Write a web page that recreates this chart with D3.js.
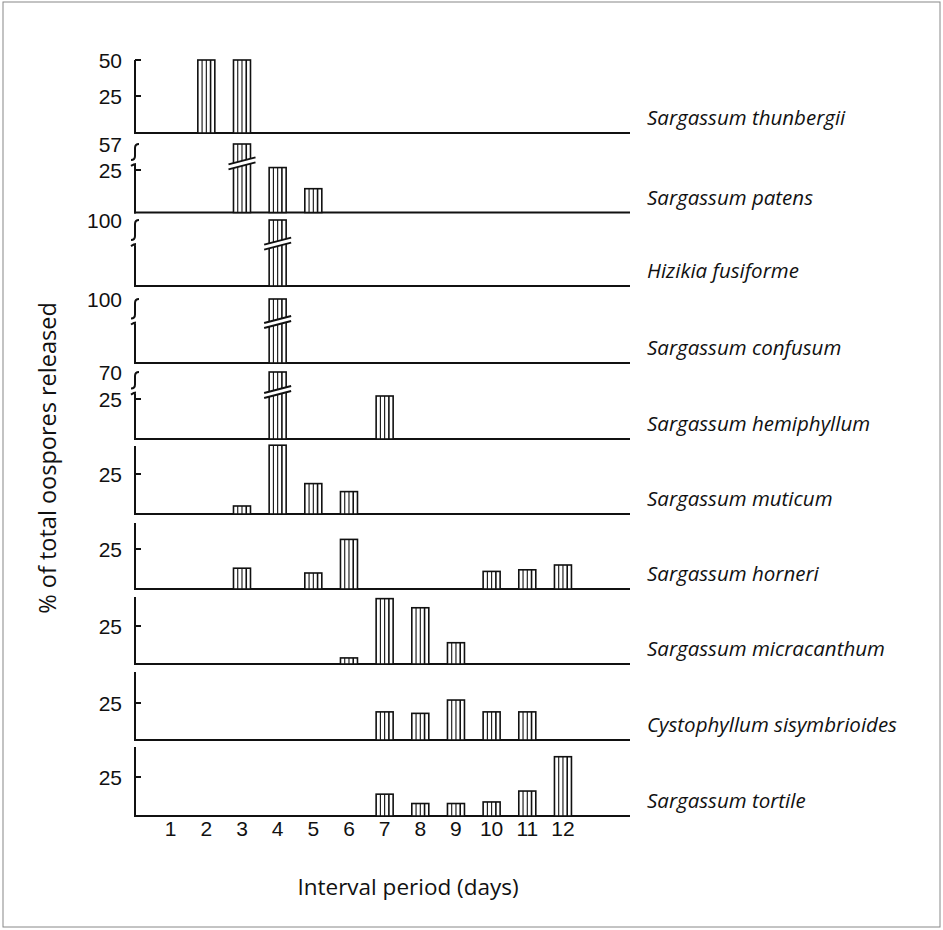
<!DOCTYPE html>
<html>
<head>
<meta charset="utf-8">
<script src="https://cdn.jsdelivr.net/npm/d3@7"></script>
<style>
  html, body { margin: 0; padding: 0; background: #fff; }
  svg { display: block; }
</style>
</head>
<body>
<svg id="chart" width="943" height="930"></svg>
<script>
// ---------------- DATA ----------------
const days = [1, 2, 3, 4, 5, 6, 7, 8, 9, 10, 11, 12];
const speciesNames = [
  "Sargassum thunbergii", "Sargassum patens", "Hizikia fusiforme",
  "Sargassum confusum", "Sargassum hemiphyllum", "Sargassum muticum",
  "Sargassum horneri", "Sargassum micracanthum",
  "Cystophyllum sisymbrioides", "Sargassum tortile"
];
// % of total oospores released per interval day (0 = none)
const thunbergii   = [0, 50, 50, 0, 0, 0, 0, 0, 0, 0, 0, 0];
const patens       = [0, 0, 57, 28, 14, 0, 0, 0, 0, 0, 0, 0];
const fusiforme    = [0, 0, 0, 100, 0, 0, 0, 0, 0, 0, 0, 0];
const confusum     = [0, 0, 0, 100, 0, 0, 0, 0, 0, 0, 0, 0];
const hemiphyllum  = [0, 0, 0, 70, 0, 0, 30, 0, 0, 0, 0, 0];
const muticum      = [0, 0, 5, 43, 19, 14, 0, 0, 0, 0, 0, 0];
const horneri      = [0, 0, 13, 0, 10, 31, 0, 0, 0, 11, 12, 15];
const micracanthum = [0, 0, 0, 0, 0, 4, 43, 37, 14, 0, 0, 0];
const sisymbrioides= [0, 0, 0, 0, 0, 0, 19, 18, 27, 19, 19, 0];
const tortile      = [0, 0, 0, 0, 0, 0, 14, 8, 8, 9, 16, 38];
const seriesValues = [thunbergii, patens, fusiforme, confusum, hemiphyllum,
                      muticum, horneri, micracanthum, sisymbrioides, tortile];
// y tick labels per panel; axis top (broken) value per panel
const yTickLabels = [[50, 25], [57, 25], [100], [100], [70, 25], [25], [25], [25], [25], [25]];
const axisTopValue = [50, 57, 100, 100, 70, null, null, null, null, null];
const brokenPanel  = [false, true, true, true, true, false, false, false, false, false];
const xTitle = "Interval period (days)";
const yTitle = "% of total oospores released";

// ---------------- LAYOUT ----------------
const layout = [
  { base: 133,   top: 60,  y25: 96 },
  { base: 212.5, top: 144, y25: 170 },
  { base: 286,   top: 220, y25: null },
  { base: 363,   top: 299, y25: null },
  { base: 439,   top: 372, y25: 399 },
  { base: 514,   top: 446, y25: 474 },
  { base: 589,   top: 523, y25: 549 },
  { base: 664,   top: 597, y25: 626 },
  { base: 740,   top: 672, y25: 703 },
  { base: 816,   top: 747, y25: 777 }
];
const axisX = 135;
const ink = "#111";
const numFont = "Liberation Sans, Arial, sans-serif";
const textFont = "Open Sans, sans-serif";

const svg = d3.select("#chart");

// frame
svg.append("rect").attr("x", 3).attr("y", 2).attr("width", 937).attr("height", 925)
  .attr("fill", "none").attr("stroke", "#888").attr("stroke-width", 1);

const x = d3.scaleLinear().domain([0, 13.88]).range([axisX, 630]);
const barW = 17;

function yScaleFor(i) {
  const L = layout[i];
  const topV = axisTopValue[i];
  if (L.y25 !== null && topV !== null && topV > 25) {
    return d3.scaleLinear().domain([0, 25, topV]).range([L.base, L.y25, L.top]);
  }
  if (L.y25 !== null) {
    return d3.scaleLinear().domain([0, 25]).range([L.base, L.y25]);
  }
  return d3.scaleLinear().domain([0, topV]).range([L.base, L.top]);
}

seriesValues.forEach((vals, i) => {
  const L = layout[i];
  const y = yScaleFor(i);
  const g = svg.append("g");
  const broken = brokenPanel[i];
  const breakY = broken
    ? (L.y25 !== null ? L.y25 - 0.35 * (L.y25 - L.top) : L.top + 0.32 * (L.base - L.top))
    : null;

  // baseline
  g.append("line").attr("x1", axisX - 1).attr("x2", x.range()[1])
    .attr("y1", L.base).attr("y2", L.base)
    .attr("stroke", ink).attr("stroke-width", 2);

  // y axis line
  if (!broken) {
    g.append("line").attr("x1", axisX).attr("x2", axisX)
      .attr("y1", L.top).attr("y2", L.base + 1)
      .attr("stroke", ink).attr("stroke-width", 2);
  } else {
    const p1 = d3.path();
    p1.moveTo(axisX + 4, L.top);
    p1.quadraticCurveTo(axisX, L.top, axisX, L.top + 4);
    p1.lineTo(axisX, breakY - 5);
    p1.quadraticCurveTo(axisX, breakY - 1, axisX - 4, breakY - 1);
    const p2 = d3.path();
    p2.moveTo(axisX + 1, breakY + 3);
    p2.quadraticCurveTo(axisX - 1, breakY + 3, axisX - 4, breakY + 5);
    p2.moveTo(axisX, breakY + 3);
    p2.lineTo(axisX, L.base + 1);
    g.append("path").attr("d", p1.toString()).attr("fill", "none")
      .attr("stroke", ink).attr("stroke-width", 2);
    g.append("path").attr("d", p2.toString()).attr("fill", "none")
      .attr("stroke", ink).attr("stroke-width", 2);
  }

  // ticks + labels
  yTickLabels[i].forEach(t => {
    const ty = y(t);
    if (!broken || t !== axisTopValue[i]) {
      g.append("line").attr("x1", axisX).attr("x2", axisX + 6)
        .attr("y1", ty).attr("y2", ty).attr("stroke", ink).attr("stroke-width", 2);
    }
    g.append("text").attr("x", 122).attr("y", ty).attr("dy", "0.36em")
      .attr("text-anchor", "end")
      .attr("font-family", numFont)
      .attr("font-size", 21).attr("fill", ink).text(t);
  });

  // bars
  const bars = days.map((d, k) => ({ day: d, v: vals[k] })).filter(d => d.v > 0);
  bars.forEach(b => {
    const bx = x(b.day) - barW / 2;
    const by = y(b.v);
    const bh = L.base - by;
    const bg = g.append("g");
    bg.append("rect").attr("x", bx).attr("y", by).attr("width", barW).attr("height", bh)
      .attr("fill", "#fff").attr("stroke", ink).attr("stroke-width", 1.6);
    [0.25, 0.5, 0.75].forEach((f, j) => {
      bg.append("line").attr("x1", bx + barW * f).attr("x2", bx + barW * f)
        .attr("y1", by).attr("y2", L.base)
        .attr("stroke", ink).attr("stroke-width", j === 2 ? 1.6 : 1.1);
    });
    if (broken && by < breakY - 6) {
      const x0 = bx - 5, x1 = bx + barW + 5;
      const rise = 7, gap = 5;
      const poly = [[x0, breakY + rise / 2], [x1, breakY - rise / 2],
                    [x1, breakY - rise / 2 + gap], [x0, breakY + rise / 2 + gap]];
      bg.append("polygon").attr("points", poly.map(p => p.join(",")).join(" "))
        .attr("fill", "#fff").attr("stroke", "none");
      bg.append("line").attr("x1", x0).attr("y1", poly[0][1]).attr("x2", x1).attr("y2", poly[1][1])
        .attr("stroke", ink).attr("stroke-width", 2);
      bg.append("line").attr("x1", x0).attr("y1", poly[3][1]).attr("x2", x1).attr("y2", poly[2][1])
        .attr("stroke", ink).attr("stroke-width", 2);
    }
  });

  // species label
  g.append("text").attr("x", 647).attr("y", L.base - 8)
    .attr("font-family", textFont).attr("font-style", "italic")
    .attr("font-size", 20.5).attr("fill", ink).text(speciesNames[i]);
});

// x tick labels (no tick marks)
const lastBase = layout[layout.length - 1].base;
svg.append("g").selectAll("text").data(days).join("text")
  .attr("x", d => x(d)).attr("y", lastBase + 20)
  .attr("text-anchor", "middle")
  .attr("font-family", numFont)
  .attr("font-size", 21).attr("fill", ink).text(d => d);

// axis titles
svg.append("text").attr("x", 408).attr("y", 895).attr("text-anchor", "middle")
  .attr("font-family", textFont).attr("font-size", 22.5).attr("fill", ink)
  .text(xTitle);
svg.append("text").attr("transform", "translate(56,458) rotate(-90)")
  .attr("text-anchor", "middle")
  .attr("font-family", textFont).attr("font-size", 23.5).attr("fill", ink)
  .text(yTitle);
</script>
</body>
</html>
